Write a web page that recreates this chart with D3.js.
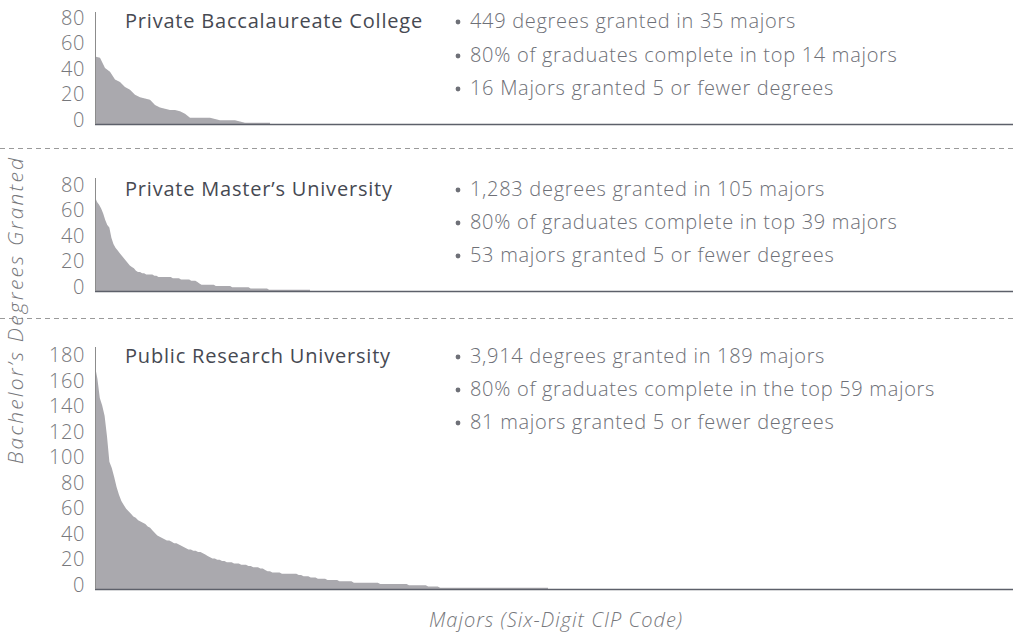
<!DOCTYPE html>
<html>
<head>
<meta charset="utf-8">
<script src="https://cdn.jsdelivr.net/npm/d3@7"></script>
<style>
  body { margin: 0; background: #fff; }
  svg { display: block; font-family: "Open Sans", Lato, sans-serif; }
</style>
</head>
<body>
<div id="chart"></div>
<script>
// degrees granted per major, sorted high to low
const baccalaureateValues = [53, 52, 44, 41, 35, 33, 29, 27, 23, 21, 20, 19, 15, 13, 12, 11, 11, 10, 8,
  5, 5, 5, 5, 5, 4, 3, 3, 3, 3, 2, 1, 1, 1, 1, 1];

const mastersValues = [74, 70, 68, 65, 61, 56, 52, 50, 42, 37, 34, 32, 30, 28, 26, 24, 22, 20, 19, 18,
  16, 15, 15, 14, 14, 13, 13, 13, 13, 12, 12, 11, 11, 11, 11, 11, 11, 11, 10, 10,
  10, 10, 9, 9, 9, 9, 9, 8, 8, 8, 7, 6, 5, 5, 5, 5, 5, 5, 5, 4,
  4, 4, 4, 4, 4, 4, 4, 3, 3, 3, 3, 3, 3, 3, 3, 3, 2, 2, 2, 2,
  2, 2, 2, 2, 2, 1, 1, 1, 1, 1, 1, 1, 1, 1, 1, 1, 1, 1, 1, 1,
  1, 1, 1, 1, 1];

const researchValues = [175, 165, 150, 144, 136, 120, 100, 95, 88, 80, 74, 69, 66, 63, 61, 59, 57, 56, 54, 53,
  52, 51, 49, 48, 46, 44, 42, 41, 40, 39, 38, 38, 37, 36, 36, 35, 34, 33, 32, 31,
  31, 30, 30, 29, 29, 28, 27, 26, 25, 24, 24, 23, 23, 22, 22, 21, 21, 21, 20, 20,
  20, 19, 19, 19, 18, 18, 17, 17, 17, 16, 16, 15, 14, 14, 13, 13, 13, 13, 12, 12,
  12, 12, 12, 12, 12, 11, 11, 10, 10, 10, 9, 9, 9, 8, 8, 8, 8, 7, 7, 7,
  7, 7, 6, 6, 6, 6, 6, 6, 5, 5, 5, 5, 5, 5, 5, 5, 5, 5, 5, 4,
  4, 4, 4, 4, 4, 4, 4, 4, 4, 4, 4, 3, 3, 3, 3, 3, 3, 3, 3, 2,
  2, 2, 2, 2, 1, 1, 1, 1, 1, 1, 1, 1, 1, 1, 1, 1, 1, 1, 1, 1,
  1, 1, 1, 1, 1, 1, 1, 1, 1, 1, 1, 1, 1, 1, 1, 1, 1, 1, 1, 1,
  1, 1, 1, 1, 1, 1, 1, 1, 1];

const panelTitles = ['Private Baccalaureate College', 'Private Master\u2019s University', 'Public Research University'];
const panelNotes = [
  ['449 degrees granted in 35 majors', '80% of graduates complete in top 14 majors', '16 Majors granted 5 or fewer degrees'],
  ['1,283 degrees granted in 105 majors', '80% of graduates complete in top 39 majors', '53 majors granted 5 or fewer degrees'],
  ['3,914 degrees granted in 189 majors', '80% of graduates complete in the top 59 majors', '81 majors granted 5 or fewer degrees']
];
const panelTicks = [
  [0, 20, 40, 60, 80],
  [0, 20, 40, 60, 80],
  [0, 20, 40, 60, 80, 100, 120, 140, 160, 180]
];
const panelMax = [88, 89, 190];

const width = 1013, height = 633;
const axisX = 95;

// layout for each panel (pixels)
const layout = [
  { base: 124, top: 12, xEnd: 270, titleY: 28, noteY: [28, 62, 95] },
  { base: 291, top: 178, xEnd: 310, titleY: 196, noteY: [196, 229, 262] },
  { base: 589, top: 347, xEnd: 548, titleY: 363, noteY: [363, 396, 429] }
];
const dividers = [148, 318];

const svg = d3.select('#chart').append('svg')
    .attr('width', width)
    .attr('height', height);

const allValues = [baccalaureateValues, mastersValues, researchValues];

allValues.forEach(function (values, p) {
    let L = layout[p];
    let g = svg.append('g').attr('class', 'panel');

    let x = d3.scaleLinear().domain([0, values.length]).range([axisX, L.xEnd]);
    let y = d3.scaleLinear().domain([0, panelMax[p]]).range([L.base, L.top]);

    // extra point so the last major keeps its width
    let pts = values.map(function (v, i) { return [i, v]; });
    pts.push([values.length, values[values.length - 1]]);

    let area = d3.area()
        .x(function (d) { return x(d[0]); })
        .y0(y(0))
        .y1(function (d) { return y(d[1]); });

    g.append('path')
        .datum(pts)
        .attr('d', area)
        .attr('fill', '#aaa9ae');

    // baseline
    g.append('line')
        .attr('x1', axisX).attr('x2', width)
        .attr('y1', y(0) + 0.5).attr('y2', y(0) + 0.5)
        .attr('stroke', '#5d606a')
        .attr('stroke-width', 1.5);

    // vertical axis
    g.append('line')
        .attr('x1', axisX + 0.5).attr('x2', axisX + 0.5)
        .attr('y1', L.top).attr('y2', y(0))
        .attr('stroke', '#8c8c8c')
        .attr('stroke-width', 1);

    let yAxis = d3.axisLeft(y).tickValues(panelTicks[p]).tickSize(0).tickPadding(10);
    let ax = g.append('g')
        .attr('transform', 'translate(' + axisX + ',0)')
        .call(yAxis);
    ax.select('.domain').remove();
    ax.selectAll('text')
        .attr('dy', '0.1em')
        .style('font-family', '"Open Sans", sans-serif')
        .style('font-size', '20px')
        .style('font-weight', 300)
        .style('letter-spacing', '0.6px')
        .style('fill', '#77787c');

    g.append('text')
        .attr('x', 125)
        .attr('y', L.titleY)
        .style('font-size', '20px')
        .style('font-weight', 500)
        .style('letter-spacing', '0.8px')
        .style('fill', '#464952')
        .text(panelTitles[p]);

    panelNotes[p].forEach(function (t, k) {
        // bullet dot
        g.append('circle')
            .attr('cx', 458)
            .attr('cy', L.noteY[k] - 6)
            .attr('r', 2.4)
            .attr('fill', '#6e7077');
        g.append('text')
            .attr('x', 470)
            .attr('y', L.noteY[k])
            .style('font-size', '20px')
            .style('font-weight', 300)
            .style('letter-spacing', '0.7px')
            .style('fill', '#6e7077')
            .text(t);
    });
});

dividers.forEach(function (d) {
    svg.append('line')
        .attr('x1', 0).attr('x2', width)
        .attr('y1', d + 0.5).attr('y2', d + 0.5)
        .attr('stroke', '#9a9a9a')
        .attr('stroke-dasharray', '5,4');
});

svg.append('text')
    .attr('transform', 'translate(23,310) rotate(-90)')
    .attr('text-anchor', 'middle')
    .style('font-size', '21px')
    .style('font-style', 'italic')
    .style('font-weight', 300)
    .style('letter-spacing', '2.2px')
    .style('fill', '#77787c')
    .text('Bachelor\u2019s Degrees Granted');

svg.append('text')
    .attr('x', 556)
    .attr('y', 627)
    .attr('text-anchor', 'middle')
    .style('font-size', '20px')
    .style('font-style', 'italic')
    .style('font-weight', 300)
    .style('letter-spacing', '1px')
    .style('fill', '#77787c')
    .text('Majors (Six-Digit CIP Code)');
</script>
</body>
</html>
